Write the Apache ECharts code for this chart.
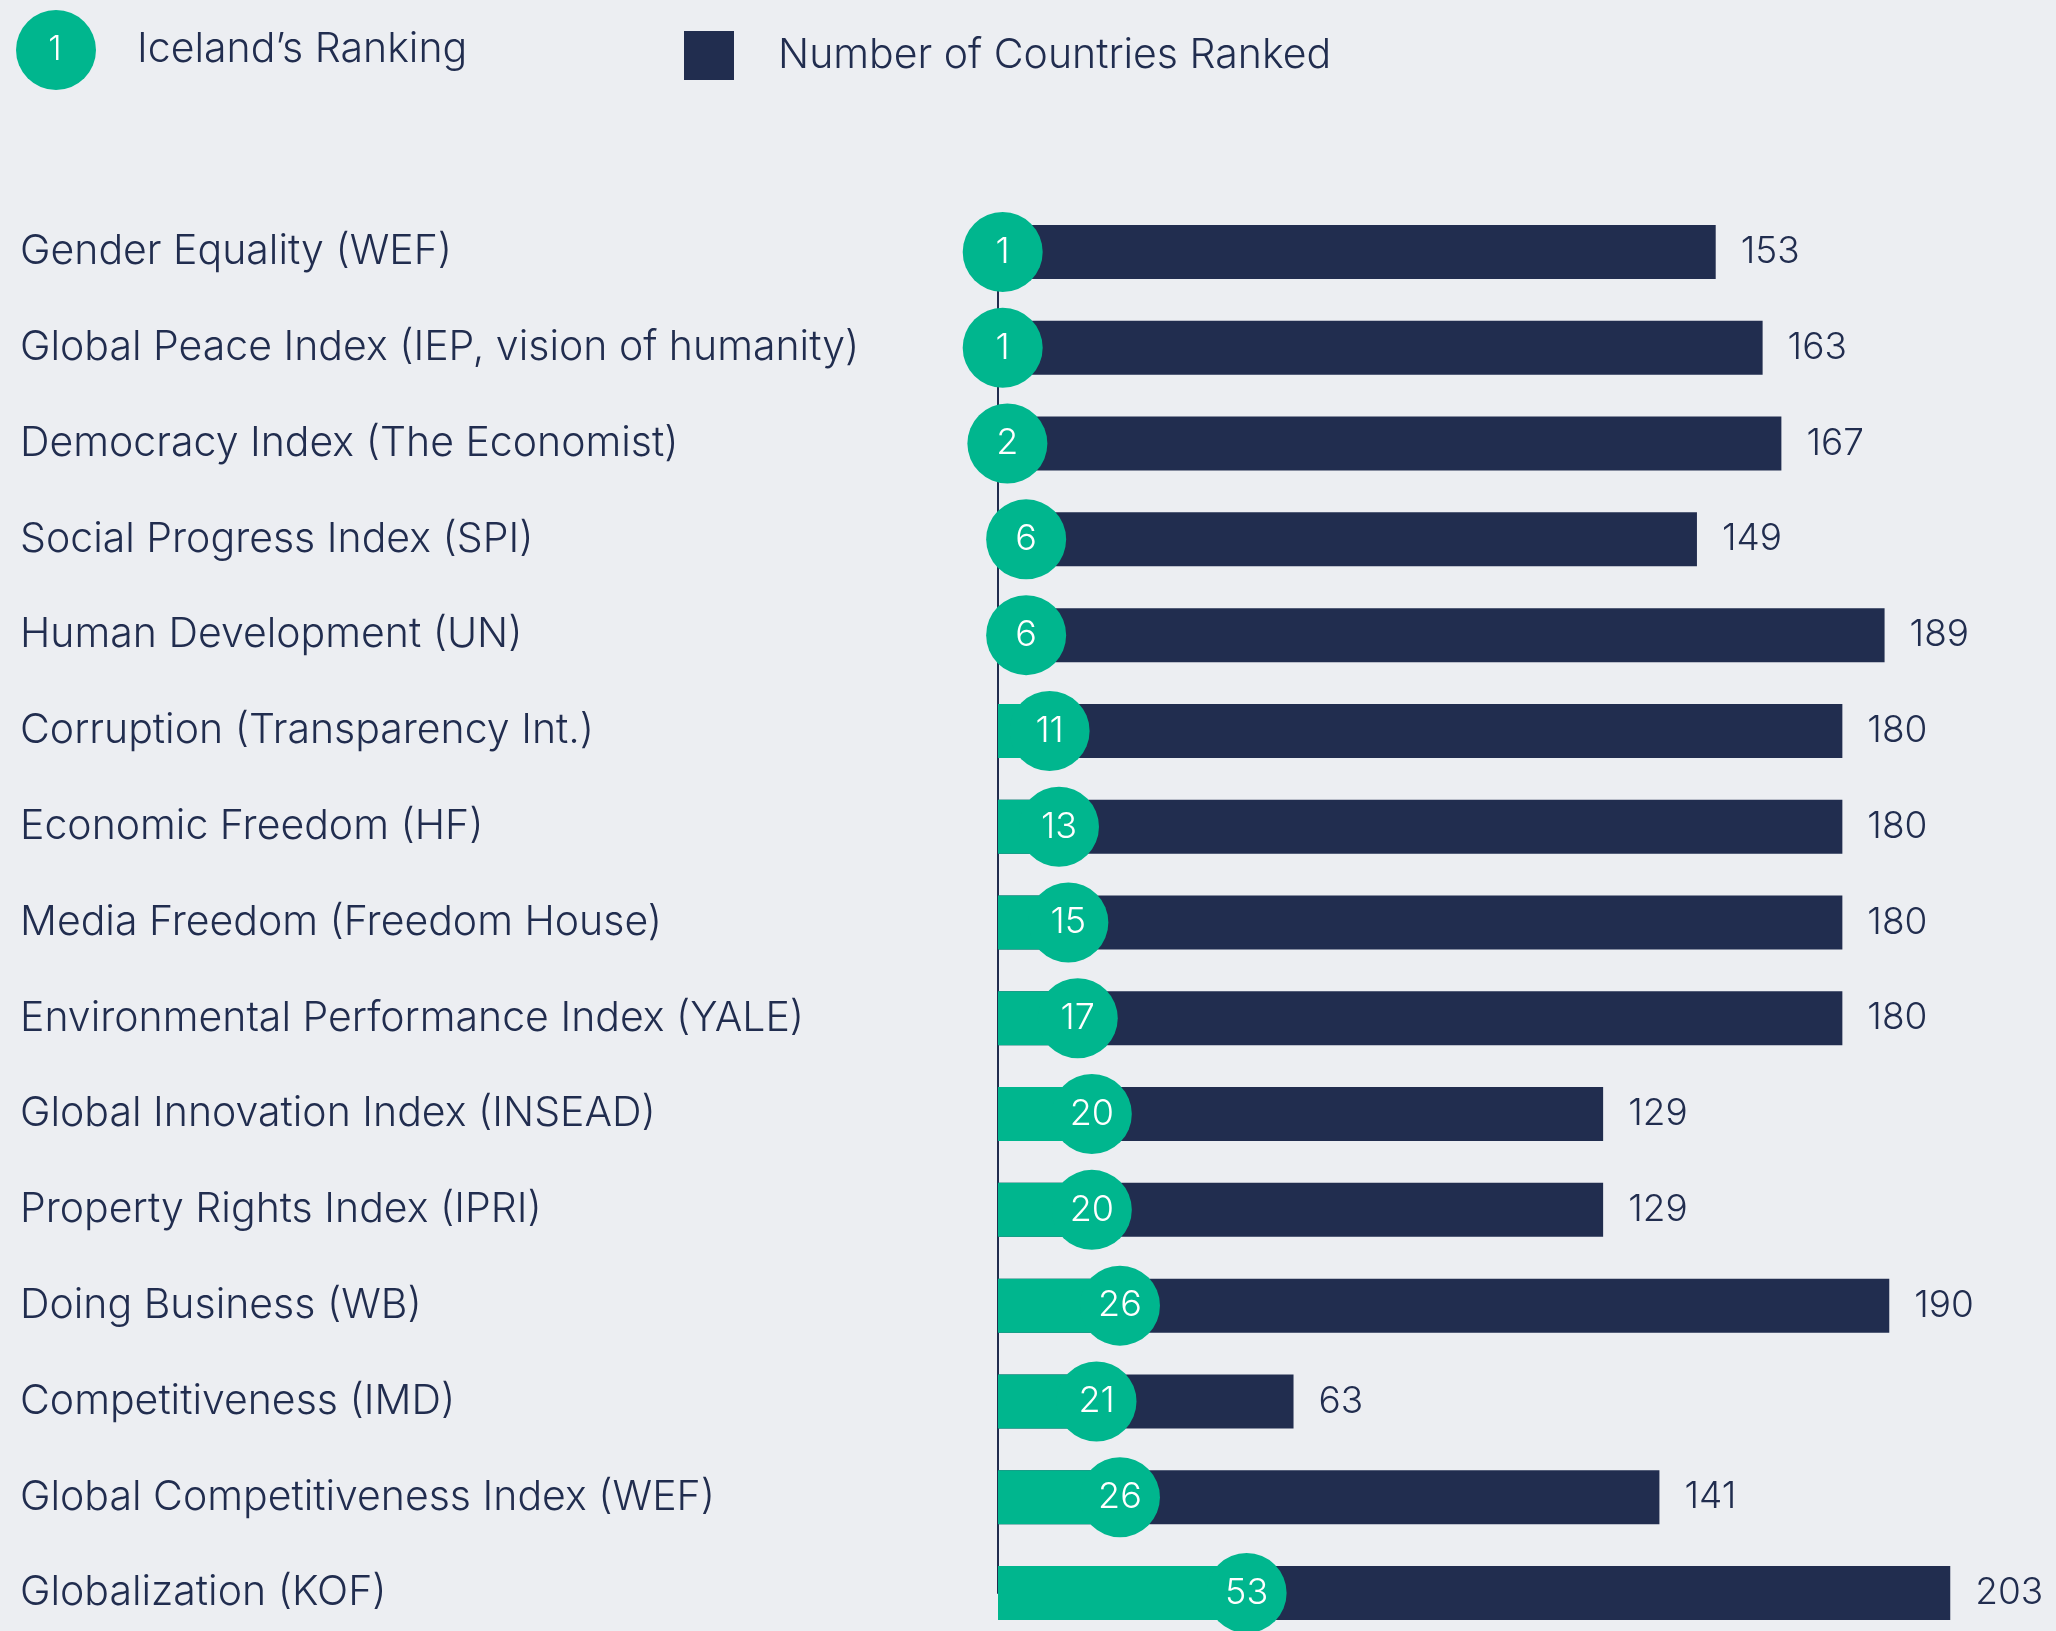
<!DOCTYPE html>
<html>
<head>
<meta charset="utf-8">
<script src="https://cdn.jsdelivr.net/npm/echarts@6/dist/echarts.min.js"></script>
<style>
  html, body { margin: 0; padding: 0; background: #ECEEF2; }
  #rank { width: 2056px; height: 1631px; }
</style>
</head>
<body>
<div id="rank"></div>
<script>
const categories = [
  "Gender Equality (WEF)",
  "Global Peace Index (IEP, vision of humanity)",
  "Democracy Index (The Economist)",
  "Social Progress Index (SPI)",
  "Human Development (UN)",
  "Corruption (Transparency Int.)",
  "Economic Freedom (HF)",
  "Media Freedom (Freedom House)",
  "Environmental Performance Index (YALE)",
  "Global Innovation Index (INSEAD)",
  "Property Rights Index (IPRI)",
  "Doing Business (WB)",
  "Competitiveness (IMD)",
  "Global Competitiveness Index (WEF)",
  "Globalization (KOF)"
];
const icelandRank = [1, 1, 2, 6, 6, 11, 13, 15, 17, 20, 20, 26, 21, 26, 53];
const countriesRanked = [153, 163, 167, 149, 189, 180, 180, 180, 180, 129, 129, 190, 63, 141, 203];

const navy = "#212D4F";
const green = "#00B68E";
const font = "Inter";

let myChart = echarts.init(document.getElementById("rank"));
let option = {
  backgroundColor: "#ECEEF2",
  textStyle: { fontFamily: font },
  legend: [
    {
      left: 11, top: 5,
      icon: "circle",
      itemWidth: 80, itemHeight: 80,
      selectedMode: false,
      textStyle: { color: navy, fontSize: 41, fontWeight: 300, fontFamily: font, padding: [4, 0, 0, 36] },
      data: ["Iceland\u2019s Ranking"]
    },
    {
      left: 679, top: 26,
      icon: "rect",
      itemWidth: 50, itemHeight: 49,
      selectedMode: false,
      textStyle: { color: navy, fontSize: 41, fontWeight: 300, fontFamily: font, padding: [0, 0, 4, 39] },
      data: ["Number of Countries Ranked"]
    }
  ],
  graphic: [
    {
      type: "text", x: 55, y: 50, z: 100,
      style: {
        text: "1", fill: "#fff", fontSize: 34, fontWeight: 300, fontFamily: font,
        align: "center", verticalAlign: "middle"
      }
    }
  ],
  grid: { left: 998, right: 26, top: 252, bottom: 38, containLabel: false },
  xAxis: {
    type: "value", min: 0, max: 220,
    show: false
  },
  yAxis: {
    type: "category",
    inverse: true,
    boundaryGap: false,
    data: categories,
    axisLine: { show: true, lineStyle: { color: navy, width: 2 } },
    axisTick: { show: false },
    axisLabel: {
      align: "left", margin: 978,
      color: navy, fontSize: 41, fontWeight: 300, fontFamily: font
    },
    splitLine: { show: false }
  },
  series: [
    {
      name: "Number of Countries Ranked",
      type: "bar",
      barWidth: 54,
      barGap: "-100%",
      itemStyle: { color: navy },
      label: {
        show: true, position: "right", distance: 25,
        color: navy, fontSize: 37, fontWeight: 300, fontFamily: font
      },
      data: countriesRanked,
      z: 2
    },
    {
      name: "Iceland\u2019s Ranking",
      type: "bar",
      barWidth: 54,
      itemStyle: { color: green },
      data: icelandRank,
      z: 3
    },
    {
      name: "Iceland\u2019s Ranking",
      type: "scatter",
      symbol: "circle",
      symbolSize: 80,
      itemStyle: { color: green, opacity: 1 },
      label: {
        show: true, position: "inside",
        color: "#fff", fontSize: 36, fontWeight: 300, fontFamily: font
      },
      data: icelandRank.map((v, i) => [v, categories[i]]),
      z: 4
    }
  ]
};
myChart.setOption(option);
</script>
</body>
</html>
